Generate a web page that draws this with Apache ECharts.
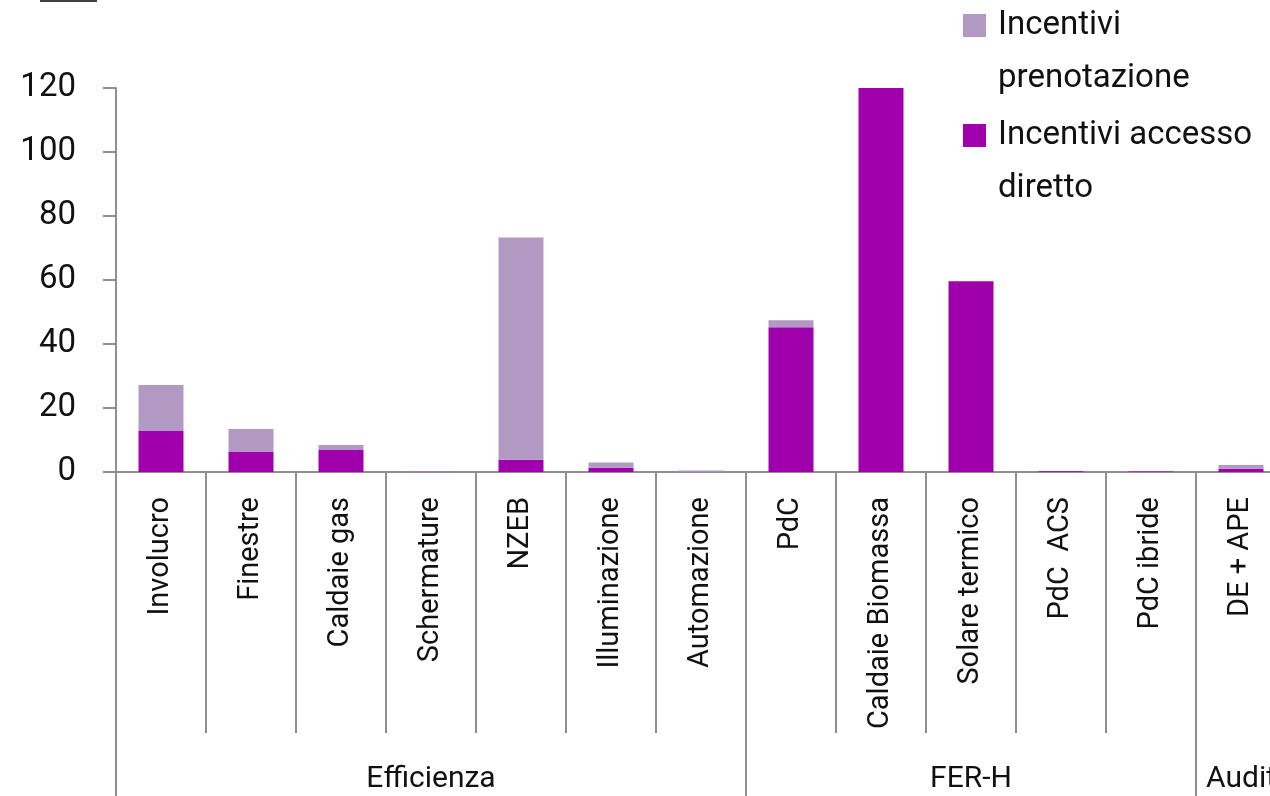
<!DOCTYPE html>
<html>
<head>
<meta charset="utf-8">
<script src="https://cdn.jsdelivr.net/npm/echarts@6/dist/echarts.min.js"></script>
<style>
  html, body { margin: 0; padding: 0; background: #ffffff; }
  #chart { width: 1270px; height: 796px; }
</style>
</head>
<body>
<div id="chart"></div>
<script>
// ---- data ----
const categories = ['Involucro', 'Finestre', 'Caldaie gas', 'Schermature', 'NZEB', 'Illuminazione', 'Automazione',
                    'PdC', 'Caldaie Biomassa', 'Solare termico', 'PdC  ACS', 'PdC ibride', 'DE + APE'];
const groupNames = ['Efficienza', 'FER-H', 'Audit'];
const groupSizes = [7, 5, 1];
const accessoDiretto = [12.8, 6.4, 6.9, 0.1, 3.8, 1.3, 0.1, 45.2, 120.0, 59.6, 0.2, 0.2, 1.0];
const prenotazione   = [14.4, 7.0, 1.5, 0.1, 69.5, 1.7, 0.4, 2.2, 0.0, 0.0, 0.0, 0.1, 1.2];
const seriesNames = ['Incentivi prenotazione', 'Incentivi accesso diretto'];
const yTicks = [0, 20, 40, 60, 80, 100, 120];

// ---- derived helpers ----
const groupStart = [];   // first category index of each group
const groupCenter = {};  // label index -> group name
let acc = 0;
groupSizes.forEach((n, g) => {
  groupStart.push(acc);
  groupCenter[acc + Math.floor(n / 2)] = groupNames[g];
  acc += n;
});

const FONT = 'Roboto';
const AXIS_GREY = '#8f8f8f';
const DARK = '#A000AB';
const LIGHT = '#B199C4';

const chart = echarts.init(document.getElementById('chart'), null, { renderer: 'canvas' });
chart.setOption({
  backgroundColor: '#ffffff',
  animation: false,
  textStyle: { fontFamily: FONT },
  graphic: [{
    type: 'rect', left: 40, top: 0, shape: { width: 57, height: 2 }, style: { fill: '#404040' }
  }],
  legend: {
    orient: 'vertical',
    left: 963,
    top: -54,
    padding: 0,
    itemWidth: 23,
    itemHeight: 23,
    itemGap: -49,
    icon: 'rect',
    data: [seriesNames[0], seriesNames[1]],
    formatter: function (name) {
      const i = name.lastIndexOf(' ');
      return '\n' + name.slice(0, i) + '\n' + name.slice(i + 1);
    },
    textStyle: {
      fontFamily: FONT, fontSize: 33, lineHeight: 53, color: '#111111',
      padding: [0, 0, 0, 7]
    }
  },
  grid: {
    left: 116, top: 88, width: 1170, bottom: 324,
    containLabel: false, outerBoundsMode: 'none'
  },
  xAxis: [
    {
      type: 'category',
      data: categories,
      position: 'bottom',
      axisLine: { show: true, lineStyle: { color: AXIS_GREY, width: 2 } },
      axisTick: { show: true, interval: 0, length: 261, lineStyle: { color: AXIS_GREY, width: 2 } },
      axisLabel: {
        interval: 0, rotate: 90, margin: 25,
        fontFamily: FONT, fontSize: 29, color: '#111111'
      },
      splitLine: { show: false }
    },
    {
      type: 'category',
      data: categories,
      position: 'bottom',
      offset: 0,
      axisLine: { show: false },
      axisTick: {
        show: true, length: 330,
        interval: function (index) { return groupStart.indexOf(index) >= 0; },
        lineStyle: { color: AXIS_GREY, width: 2 }
      },
      axisLabel: {
        interval: 0, margin: 292,
        fontFamily: FONT, fontSize: 30, color: '#111111',
        formatter: function (value, index) { return groupCenter[index] || ''; }
      },
      splitLine: { show: false }
    }
  ],
  yAxis: {
    type: 'value',
    min: yTicks[0],
    max: yTicks[yTicks.length - 1],
    interval: yTicks[1] - yTicks[0],
    axisLine: { show: true, lineStyle: { color: AXIS_GREY, width: 2 } },
    axisTick: { show: true, length: 13, lineStyle: { color: AXIS_GREY, width: 2 } },
    axisLabel: { margin: 40, fontFamily: FONT, fontSize: 33, color: '#111111' },
    splitLine: { show: false }
  },
  series: [
    {
      name: seriesNames[1], type: 'bar', stack: 'tot', xAxisIndex: 0,
      barWidth: '50%', data: accessoDiretto, itemStyle: { color: DARK }
    },
    {
      name: seriesNames[0], type: 'bar', stack: 'tot', xAxisIndex: 0,
      barWidth: '50%', data: prenotazione, itemStyle: { color: LIGHT }
    }
  ]
});
</script>
</body>
</html>
